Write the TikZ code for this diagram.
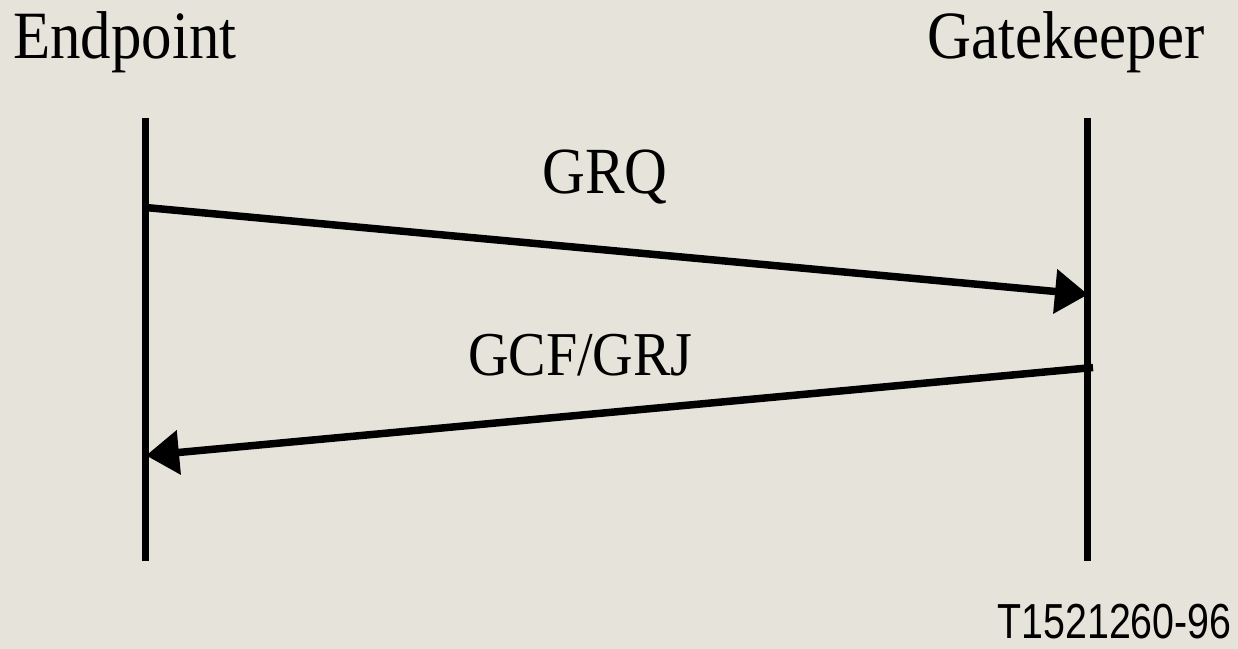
\documentclass[tikz,border=0pt]{standalone}
\usepackage{fontspec}
\usepackage{tikz}
\usetikzlibrary{arrows.meta}
\newfontfamily\headfont[FakeStretch=0.9]{Liberation Serif}
\newfontfamily\tagfont[FakeStretch=0.8]{Liberation Sans}
\definecolor{paper}{HTML}{E5E3DA}
\tikzset{
  party/.style={inner sep=0pt, font=\headfont\fontsize{38.5}{40}\selectfont},
  msglbl/.style={inner sep=0pt, anchor=base, font=\headfont\fontsize{#1}{40}\selectfont},
  msglbl/.default=37.5,
  life/.style={line width=0.15cm, line cap=butt},
  msg/.style={-{Triangle[length=6.6mm,width=8.6mm]}, line width=0.15cm, line join=miter},
  figtag/.style={inner sep=0pt, anchor=base east, font=\tagfont\fontsize{28}{30}\selectfont},
}

\begin{document}
\begin{tikzpicture}[x=0.02cm, y=-0.02cm]
    \fill[paper] (0,0) rectangle (1238,649);

    \node[party, anchor=base west] (ep) at (13,58) {Endpoint};
    \node[party, anchor=base east] (gk) at (1205,58) {Gatekeeper};

    % lifelines
    \coordinate (epTop) at (145.5,118);
    \coordinate (epBot) at (145.5,561);
    \coordinate (gkTop) at (1087.5,118);
    \coordinate (gkBot) at (1087.5,561);
    \draw[life] (epTop) -- (epBot);
    \draw[life] (gkTop) -- (gkBot);

    % messages
    \coordinate (grqFrom) at (145.5,207.5);
    \coordinate (grqTo) at (1088,294.5);
    \coordinate (gcfFrom) at (1093,367.5);
    \coordinate (gcfTo) at (146,455.5);
    \draw[msg] (grqFrom) -- (grqTo);
    \draw[msg] (gcfFrom) -- (gcfTo);

    \node[msglbl] (grq) at (605,193) {GRQ};
    \node[msglbl=35.5] (gcf) at (580.5,375) {GCF/GRJ};

    \node[figtag] (tag) at (1232,638) {T1521260-96};
\end{tikzpicture}
\end{document}
